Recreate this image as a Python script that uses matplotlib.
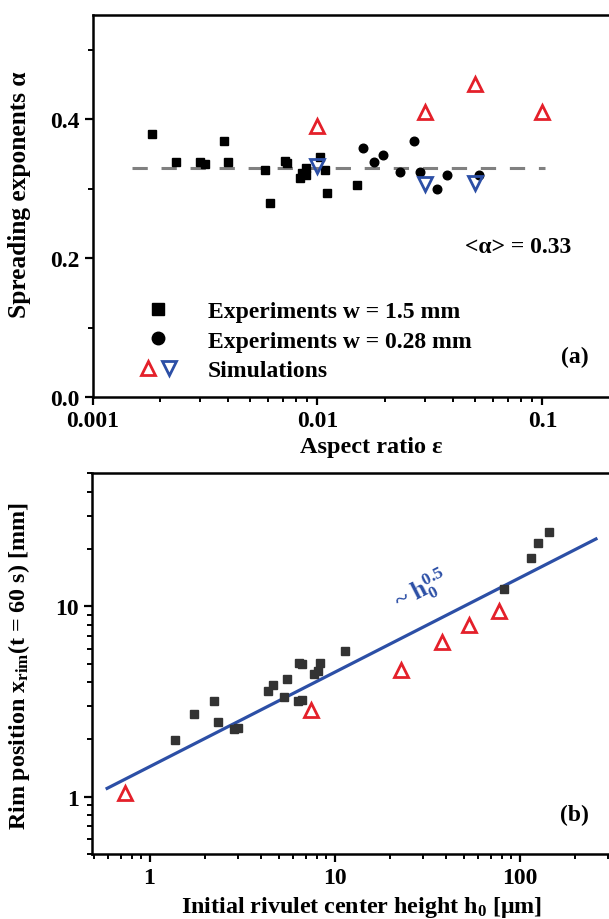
import matplotlib
matplotlib.use("Agg")
import matplotlib.pyplot as plt
from matplotlib.legend_handler import HandlerTuple
from matplotlib.lines import Line2D
from matplotlib.ticker import LogLocator, NullFormatter, FixedLocator

plt.rcParams["font.family"] = ["Liberation Serif", "DejaVu Serif"]
plt.rcParams["font.weight"] = "bold"
plt.rcParams["axes.labelweight"] = "bold"
plt.rcParams["mathtext.fontset"] = "custom"
plt.rcParams["mathtext.rm"] = "Liberation Serif:bold"
plt.rcParams["mathtext.it"] = "Liberation Serif:bold"
plt.rcParams["mathtext.bf"] = "Liberation Serif:bold"

RED = "#e4202a"
BLUE = "#2c4fa6"

# ---- panel (a): spreading exponents vs aspect ratio ----
sq_eps = [0.00184, 0.00234, 0.00300, 0.00316, 0.00383, 0.00400, 0.00585, 0.00618,
          0.00719, 0.00735, 0.00836, 0.00850, 0.00888, 0.00890, 0.0103, 0.0108,
          0.0110, 0.0150]
sq_alpha = [0.378, 0.339, 0.338, 0.335, 0.368, 0.338, 0.327, 0.279,
            0.340, 0.337, 0.315, 0.323, 0.329, 0.320, 0.345, 0.327,
            0.294, 0.305]
circ_eps = [0.0160, 0.0178, 0.0196, 0.0233, 0.0268, 0.0286, 0.0340, 0.0377, 0.0520]
circ_alpha = [0.358, 0.338, 0.349, 0.324, 0.368, 0.324, 0.299, 0.319, 0.320]
sim_up_eps = [0.01, 0.03, 0.05, 0.1]
sim_up_alpha = [0.390, 0.411, 0.451, 0.411]
sim_dn_eps = [0.01, 0.03, 0.05]
sim_dn_alpha = [0.333, 0.307, 0.308]
mean_alpha = 0.33
mean_eps_range = [0.0015, 0.103]

# ---- panel (b): rim position vs initial height ----
exp_h0 = [1.37, 1.75, 2.24, 2.35, 2.87, 3.02, 4.39, 4.63, 5.54, 5.35, 6.33, 6.70,
          6.40, 6.70, 7.78, 8.17, 8.32, 11.4, 82, 116, 126, 144]
exp_xrim = [1.99, 2.71, 3.19, 2.46, 2.27, 2.29, 3.60, 3.87, 4.16, 3.36, 3.20, 3.23,
            5.04, 4.98, 4.41, 4.59, 5.04, 5.83, 12.4, 18.0, 21.5, 24.5]
sim_h0 = [0.74, 7.5, 22.8, 38.0, 53.6, 77.0]
sim_xrim = [1.05, 2.86, 4.64, 6.49, 7.94, 9.41]
fit_h0 = [0.59, 259]
fit_xrim = [1.106, 22.6]

fig = plt.figure(figsize=(6.09, 9.2), dpi=100)

def style_axes(ax):
    for s in ax.spines.values():
        s.set_linewidth(1.8)
    ax.tick_params(which="major", direction="out", length=6, width=1.6,
                   labelsize=17, top=False, right=False)
    ax.tick_params(which="minor", direction="out", length=3.5, width=1.4,
                   top=False, right=False)

# panel (a)
ax1 = fig.add_axes([92.5 / 609, 1 - 398 / 920, 557.3 / 609, 382 / 920])
ax1.set_xscale("log")
ax1.set_xlim(0.001, 0.3)
ax1.set_ylim(0, 0.55)
ax1.plot(mean_eps_range, [mean_alpha, mean_alpha], color="#808080", lw=2.2,
         dashes=(5, 4.5), zorder=1)
ax1.plot(sq_eps, sq_alpha, "s", color="black", ms=5.5, ls="none", zorder=3)
ax1.plot(circ_eps, circ_alpha, "o", color="black", ms=6.2, ls="none", zorder=3)
ax1.plot(sim_up_eps, sim_up_alpha, "^", mfc="none", mec=RED, mew=2.0, ms=9.5,
         ls="none", zorder=4)
ax1.plot(sim_dn_eps, sim_dn_alpha, "v", mfc="none", mec=BLUE, mew=2.0, ms=9.5,
         ls="none", zorder=4)
ax1.yaxis.set_major_locator(FixedLocator([0.0, 0.2, 0.4]))
ax1.yaxis.set_minor_locator(FixedLocator([0.1, 0.3, 0.5]))
ax1.xaxis.set_minor_locator(LogLocator(base=10, subs=range(2, 10), numticks=20))
ax1.xaxis.set_minor_formatter(NullFormatter())
ax1.set_xticks([0.001, 0.01, 0.1])
ax1.set_xticklabels(["0.001", "0.01", "0.1"])
ax1.set_yticklabels(["0.0", "0.2", "0.4"])
style_axes(ax1)
ax1.set_xlabel("Aspect ratio ε", fontsize=17.5, labelpad=3.5)
ax1.set_ylabel("Spreading exponents α", fontsize=18.3)
ax1.yaxis.set_label_coords(-0.111, 0.531)
ax1.text(0.764, 0.395, "<α> = 0.33", transform=ax1.transAxes, fontsize=17,
         ha="center", va="center")
ax1.text(0.866, 0.105, "(a)", transform=ax1.transAxes, fontsize=17,
         ha="center", va="center")

h_sq = Line2D([], [], marker="s", color="black", ms=8.5, ls="none")
h_ci = Line2D([], [], marker="o", color="black", ms=9, ls="none")
h_up = Line2D([], [], marker="^", mfc="none", mec=RED, mew=2.0, ms=10, ls="none")
h_dn = Line2D([], [], marker="v", mfc="none", mec=BLUE, mew=2.0, ms=10, ls="none")
ax1.legend([h_sq, h_ci, (h_up, h_dn)],
           ["Experiments w = 1.5 mm", "Experiments w = 0.28 mm", "Simulations"],
           handler_map={tuple: HandlerTuple(ndivide=None, pad=0.0)},
           loc="center left", bbox_to_anchor=(0.08, 0.147), frameon=False,
           fontsize=17, handlelength=1.8, handletextpad=1.2, labelspacing=0.35,
           borderpad=0, borderaxespad=0)

# panel (b)
ax2 = fig.add_axes([92.2 / 609, 1 - 855 / 920, 538.7 / 609, 380.7 / 920])
ax2.set_xscale("log")
ax2.set_yscale("log")
ax2.set_xlim(0.49, 400)
ax2.set_ylim(0.5, 50)
ax2.plot(fit_h0, fit_xrim, color=BLUE, lw=2.3, zorder=2)
ax2.plot(exp_h0, exp_xrim, "s", color="#333333", ms=6, ls="none", zorder=3)
ax2.plot(sim_h0, sim_xrim, "^", mfc="none", mec=RED, mew=2.0, ms=9.5, ls="none",
         zorder=4)
ax2.set_xticks([1, 10, 100])
ax2.set_xticklabels(["1", "10", "100"])
ax2.set_yticks([1, 10])
ax2.set_yticklabels(["1", "10"])
ax2.xaxis.set_minor_locator(LogLocator(base=10, subs=range(2, 10), numticks=20))
ax2.yaxis.set_minor_locator(LogLocator(base=10, subs=range(2, 10), numticks=20))
ax2.xaxis.set_minor_formatter(NullFormatter())
ax2.yaxis.set_minor_formatter(NullFormatter())
style_axes(ax2)
ax2.set_xlabel(r"Initial rivulet center height h$_0$ [μm]", fontsize=17.3, labelpad=4)
ax2.set_ylabel(r"Rim position x$_{\rm rim}$(t = 60 s) [mm]", fontsize=17.3)
ax2.yaxis.set_label_coords(-0.112, 0.495)
ax2.text(0.896, 0.105, "(b)", transform=ax2.transAxes, fontsize=17,
         ha="center", va="center")
ax2.text(421 / 609, 1 - 590 / 920, r"~ h$_0^{0.5}$", transform=fig.transFigure,
         fontsize=18, color=BLUE, ha="center", va="center", rotation=27)

fig.savefig("out.png", dpi=100)
